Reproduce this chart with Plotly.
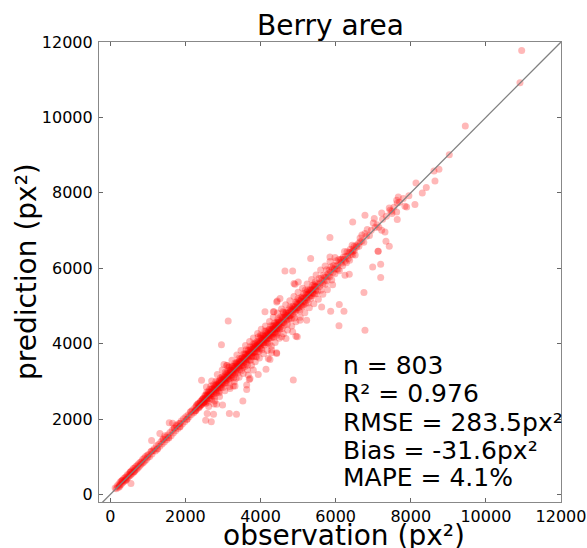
import plotly.graph_objects as go

# ---- data (read/estimated from the reference picture) ----
obs_small = [130,160,185,210,230,250,265,280,300,315,330,345,360,380,395,410,425,440,455,470,
             490,505,520,535,550,565,580,600,615,630,650,665,680,700,715,735,750,770,790,805,
             825,845,860,880,900,920,940,960,985,1000,240,310,420,540,640,550]
pred_small = [170,150,230,190,280,240,330,260,350,300,380,330,420,360,450,400,470,410,520,450,
              530,490,580,510,600,540,640,570,690,600,700,640,740,670,770,700,810,740,850,780,
              870,820,930,850,960,890,1010,930,1040,980,200,370,380,600,610,290]

obs_low = [1020,1050,1080,1110,1140,1170,1200,1230,1260,1290,1320,1350,1380,1410,1440,1470,1500,1530,1560,1590,
           1620,1650,1680,1710,1740,1770,1800,1830,1860,1890,1920,1950,1980,1100,1250,1400,1550,1700,1850,
           1100,1320,1450,1570,1660,1750,1860,
           2010,2040,2070,2100,2130,2160,2190,2220,2250,2270,2290,2310,2330,2350,2370,2390,2410,2420,2440,2450,
           2460,2470,2480,2490,2050,2150,2250,2300,2360,2400,2430,2460,2490,2380,2340,2280]
pred_low = [1060,1010,1130,1070,1160,1210,1150,1290,1220,1330,1280,1400,1340,1460,1390,1520,1450,1580,1500,1640,
            1560,1700,1630,1760,1690,1820,1750,1880,1800,1950,1870,2010,1930,1150,1200,1470,1510,1760,1790,
            1430,1620,1560,1900,1890,1840,1890,
            2060,1990,2110,2060,2190,2120,2240,2170,2300,2230,2340,2270,2390,2310,2420,2350,2470,2380,2500,2410,
            2520,2430,2550,2460,2000,2200,2210,2370,2300,2460,2380,2530,2430,2330,2410,2230]

obs_mid1 = [2505,2512,2520,2528,2533,2541,2550,2556,2563,2570,2578,2585,2591,2598,2606,2612,2620,2627,2633,2641,
            2648,2655,2662,2670,2677,2684,2690,2698,2705,2712,2719,2726,2734,2741,2748,2755,2762,2770,2776,2783,
            2790,2798,2805,2812,2818,2826,2833,2840,2847,2855,2861,2868,2876,2883,2890,2897,2905,2912,2918,2926,
            2933,2940,2947,2955,2962,2968,2976,2983,2990,2997,3005,3012,3018,3026,3033,3040,3047,3055,3061,3068,
            3076,3083,3090,3097,3105,3112,3118,3126,3133,3140,3147,3155,3162,3168,3176,3183,3190,3197,3205,3212,
            3218,3226,3233,3240,3247,3255,3262,3268,3276,3283,3290,3297,3305,3312,3318,3326,3333,3340,3347,3355,
            3362,3368,3376,3383,3390,3397,3405,3412,3418,3426,3433,3440,3447,3455,3462,3468,3476,3483,3490,3497]
pred_mid1 = [2545,2452,2630,2508,2603,2411,2560,2646,2523,2720,2488,2615,2651,2448,2626,2732,2550,2632,2713,2611,
             2788,2545,2712,2660,2877,2624,2715,2518,2800,2727,2674,2801,2614,2776,2908,2670,2772,2825,2576,2848,
             2895,2773,2735,3002,2858,2691,2918,2825,2907,2760,2881,2998,2821,2953,2730,2942,3015,2882,2933,2851,
             3098,2900,3027,2840,2992,3063,2911,3123,2970,3047,2835,3072,3043,3141,2943,3050,3122,3010,3241,2958,
             3111,3018,3215,3102,2965,3202,3163,3101,3283,3060,3217,3170,3062,3378,3141,3238,3040,3297,3225,3152,
             3303,3106,3273,3400,3232,3185,3392,3293,3086,3343,3240,3397,3315,3182,3488,3361,3253,3405,3467,3335,
             3502,3273,3406,3458,3225,3447,3410,3522,3358,3611,3403,3530,3307,3500,3477,3593,3401,3543,3280,3532]

obs_mid2 = [3503,3510,3516,3523,3530,3537,3543,3550,3557,3563,3570,3577,3583,3590,3597,3603,3610,3617,3623,3630,
            3637,3643,3650,3657,3663,3670,3677,3683,3690,3697,3703,3710,3717,3723,3730,3737,3743,3750,3757,3763,
            3770,3777,3783,3790,3797,3803,3810,3817,3823,3830,3837,3843,3850,3857,3863,3870,3877,3883,3890,3897,
            3903,3910,3917,3923,3930,3937,3943,3950,3957,3963,3970,3977,3983,3990,3997,4003,4010,4017,4023,4030,
            4037,4043,4050,4057,4063,4070,4077,4083,4090,4097,4103,4110,4117,4123,4130,4137,4143,4150,4157,4163,
            4170,4177,4183,4190,4197,4203,4210,4217,4223,4230,4237,4243,4250,4257,4263,4270,4277,4283,4290,4297,
            4303,4310,4317,4323,4330,4337,4343,4350,4357,4363,4370,4377,4383,4390,4397,4403,4410,4417,4423,4430,
            4437,4443,4450,4457,4463,4470,4477,4483,4490,4497]
pred_mid2 = [3423,3630,3546,3363,3625,3547,3503,3725,3442,3623,3595,3387,3723,3635,3527,3708,3590,3837,3488,3665,
             3727,3588,3665,3427,3823,3720,3582,3813,3680,3767,3553,3750,3917,3658,3735,3852,3563,3825,3787,3663,
             3905,3752,3663,3850,3982,3758,3830,3662,3923,3885,3777,4013,3885,3772,3988,3660,3942,3898,3850,4047,
             3948,3780,4007,3928,3855,4177,3918,4060,3792,3993,4050,3997,3878,4145,3947,4038,4205,3877,4083,4015,
             3837,4143,4100,4022,4228,3980,4087,4208,4030,4182,4133,3965,4332,4163,4110,4212,4033,4330,4162,4093,
             4290,4137,4243,4015,4292,4218,4360,4132,4263,4000,4212,4383,4155,4327,4273,4475,4222,4313,4165,4387,
             4368,4300,4477,4173,4375,4267,4458,4370,4167,4418,4545,4297,4408,4485,4267,4443,4390,4562,4493,4320,
             4392,4553,4285,4492,4653,4410,4562,4478,4620,4402]

obs_mid3 = [4505,4514,4523,4532,4541,4550,4559,4568,4577,4586,4595,4604,4613,4622,4631,4640,4649,4658,4667,4676,
            4685,4694,4703,4712,4721,4730,4739,4748,4757,4766,4775,4784,4793,4802,4811,4820,4829,4838,4847,4856,
            4865,4874,4883,4892,4901,4910,4919,4928,4937,4946,4955,4964,4973,4982,4991,5000,5009,5018,5027,5036,
            5045,5054,5063,5072,5081,5090,5099,5108,5117,5126,5135,5144,5153,5162,5171,5180,5189,5198,5207,5216,
            5225,5234,5243,5252,5261,5270,5279,5288,5297,5306,5315,5324,5333,5342,5351,5360,5369,5378,5387,5396,
            5405,5414,5423,5432,5441,5450,5459,5468,5477,5486]
pred_mid3 = [4565,4374,4538,4712,4451,4585,4539,4693,4402,4666,4560,4699,4823,4562,4651,4495,4759,4703,4657,4836,
             4815,4619,4743,4512,4806,4735,4889,4633,4812,4736,4675,4969,4748,4872,4836,4660,4924,4978,4782,4866,
             4915,4994,4753,4907,4681,4985,4949,4843,5107,4941,5100,4909,5063,4957,5051,5195,4889,5053,4957,5146,
             4865,5074,5128,5227,5041,5190,5004,5113,5242,4976,5210,5034,5333,5147,5216,5115,5419,5068,5227,5306,
             5205,5369,5158,5302,5431,5080,5339,5303,5252,5411,5430,5264,5358,5202,5431,5400,5264,5543,5357,5451,
             5330,5564,5433,5527,5316,5515,5644,5418,5512,5326]

obs_high = [5505,5522,5539,5556,5573,5590,5607,5624,5641,5658,5675,5692,5709,5726,5743,5760,5777,5794,5811,5828,
            5845,5862,5879,5896,5913,5930,5947,5964,5981,5998,6015,6032,6049,6066,6083,6100,6117,6134,6151,6168,
            6185,6202,6219,6236,6253,6270,6287,6304,6321,6338,6355,6372,6389,6406,6423,6440,6457,6474,6491,6500,
            6550,6620,6700,6750,6820,6900,6950,7050,7100,7150,7250,7350,7500,7550,7700,7800,7950,
            6454,6781,6842,6781,6650,6650,6600,6700,6460,6520,6560,7029,7002,7314,7226,7340,7428,7127,
            7226,7428,7450,7492,7625,7641,7668,7625,7641,7846,7891,8112,8307,8414,8139,8645,8618,8751,
            9026,9452,10908,10953]
pred_high = [5595,5402,5569,5726,5513,5605,5417,5734,5686,5573,5815,5662,5774,5576,5763,5960,5677,5849,5796,5948,
             5775,5897,6039,5686,5993,5890,6072,5974,5851,6058,6200,5977,6074,5971,6233,5930,6157,6234,6131,6238,
             6065,6292,6234,6446,6188,6315,6147,6434,6326,6258,6415,6212,6504,6426,6378,6610,6357,6509,6581,6470,
             6600,6580,6720,6690,6850,6870,7010,7080,7150,7090,7300,7380,7450,7620,7750,7850,7920,
             7227,7404,7025,6919,6800,6700,6650,6880,6450,6350,6560,7316,7200,6962,7006,6715,6583,6450,
             7465,7597,7540,7510,7491,7290,7889,7801,7730,7642,7624,7688,7995,8138,8260,8313,8578,8623,
             9012,9770,10919,11775]

obs_halo = [2560,2620,2700,2780,2850,2910,2980,3050,3110,3180,3240,3300,3370,3430,3480,3540,3600,3650,3710,3760,
            3810,3860,3920,3970,4020,4080,4130,4180,4240,4290,4340,4390,4450,4500,4560,4610,4670,4720,4780,4830,
            4890,4940,5000,5060,5120,5180,5240,5300,5360,5420,5480,5540,5600,5660,5720,5780,5850,5920,3350,3900,
            4000,4600,3150,2900]
pred_halo = [2850,2330,3010,2480,3180,2600,3300,2750,3420,2860,3560,2990,3700,3110,3820,3210,3950,3310,4060,3430,
             4150,3520,4270,3620,4380,3730,4470,3820,4590,3940,4700,4030,4810,4140,4920,4260,5030,4360,5140,4470,
             5250,4580,5360,4700,5470,4820,5580,4950,5700,5060,5820,5180,5950,5310,6060,5430,6180,5560,3080,3650,
             4230,4850,3380,2700]

obs_outlier = [2540,2580,2690,2750,2760,2830,2990,3170,3360,3530,2430,2960,3140,
               5335,4651,4856,5849,5983,7135,6754,6781,6097,5868,6222,6089,5628,5229,5051,6363,6249,
               4891,5005,4446,4518,4358,4430,4563,4678,4944,4297,4430,5849,4917,4873,4146,3940,3632,
               3632,3320,4297,4430,4207,4252,4856,4979,3027,3099,3720,3808,3187,3275,3674,3701,
               4119,4340,4430,6986,7199,7199]
pred_outlier = [1970,2150,1930,2130,2400,2390,2370,2150,2130,2480,3030,3970,4600,
                6257,5929,5929,6300,6283,6450,5356,4358,5038,4861,4861,4472,4975,4623,4623,5841,5815,
                5595,5637,5134,5197,4843,4225,4180,4137,4199,3828,3740,6813,5576,3033,3324,3184,2900,
                2787,2874,3756,3756,3608,3581,4313,4180,3449,3430,3078,3298,2813,2874,3165,3052,
                4843,4843,5107,6034,6106,5754]

diag = [-300, 12000]
tick_vals = [0, 2000, 4000, 6000, 8000, 10000, 12000]
tick_text = ["0", "2000", "4000", "6000", "8000", "10000", "12000"]
stats_lines = ["n = 803", "R² = 0.976", "RMSE = 283.5px²", "Bias = -31.6px²", "MAPE = 4.1%"]

observation = obs_small + obs_low + obs_mid1 + obs_mid2 + obs_mid3 + obs_high + obs_halo + obs_outlier
prediction = pred_small + pred_low + pred_mid1 + pred_mid2 + pred_mid3 + pred_high + pred_halo + pred_outlier

FONT = "DejaVu Sans"

fig = go.Figure()
fig.add_trace(go.Scatter(
    x=observation, y=prediction, mode="markers",
    marker=dict(size=7, color="rgba(255,0,0,0.28)", line=dict(width=0)),
    hoverinfo="skip", showlegend=False))
fig.add_trace(go.Scatter(
    x=diag, y=diag, mode="lines",
    line=dict(color="#808080", width=1.3), hoverinfo="skip", showlegend=False))

axis_common = dict(
    tickvals=tick_vals, ticktext=tick_text, ticks="inside", ticklen=4, tickwidth=1, tickcolor="#666",
    showline=True, linecolor="#888", linewidth=1.2, mirror="ticks",
    showgrid=False, zeroline=False, automargin=False,
    tickfont=dict(family=FONT, size=16, color="black"))

fig.update_layout(
    width=587, height=548,
    margin=dict(l=99, r=26, t=42, b=46),
    paper_bgcolor="white", plot_bgcolor="white",
    xaxis=dict(range=[-300, 12000], **axis_common),
    yaxis=dict(range=[-200, 12000], ticklabelstandoff=2, **axis_common),
    font=dict(family=FONT, color="black"),
)

ann = []
ann.append(dict(text="Berry area", xref="paper", yref="paper", x=0.5, y=1.0,
                yshift=17, xanchor="center", yanchor="middle",
                showarrow=False, font=dict(family=FONT, size=28, color="black")))
ann.append(dict(text="observation (px²)", xref="paper", yref="paper", x=0.53, y=0,
                yshift=-33, xanchor="center", yanchor="middle",
                showarrow=False, font=dict(family=FONT, size=28, color="black")))
ann.append(dict(text="prediction (px²)", xref="paper", yref="paper", x=0, y=0.5,
                xshift=-73, textangle=-90, xanchor="center", yanchor="middle",
                showarrow=False, font=dict(family=FONT, size=28, color="black")))
ys = [0.2957, 0.2348, 0.1739, 0.1130, 0.0522]
for t, yy in zip(stats_lines, ys):
    ann.append(dict(text=t, xref="paper", yref="paper", x=0.5238, y=yy,
                    xanchor="left", yanchor="middle", showarrow=False,
                    font=dict(family=FONT, size=25, color="black")))
fig.update_layout(annotations=ann)

# remove the default page margin so the 587x548 figure fills the window exactly
fig.write_html("out.html",
               config={"displayModeBar": False},
               post_script="document.body.style.margin='0';"
                           "document.documentElement.style.overflow='hidden';"
                           "document.body.style.overflow='hidden';")
